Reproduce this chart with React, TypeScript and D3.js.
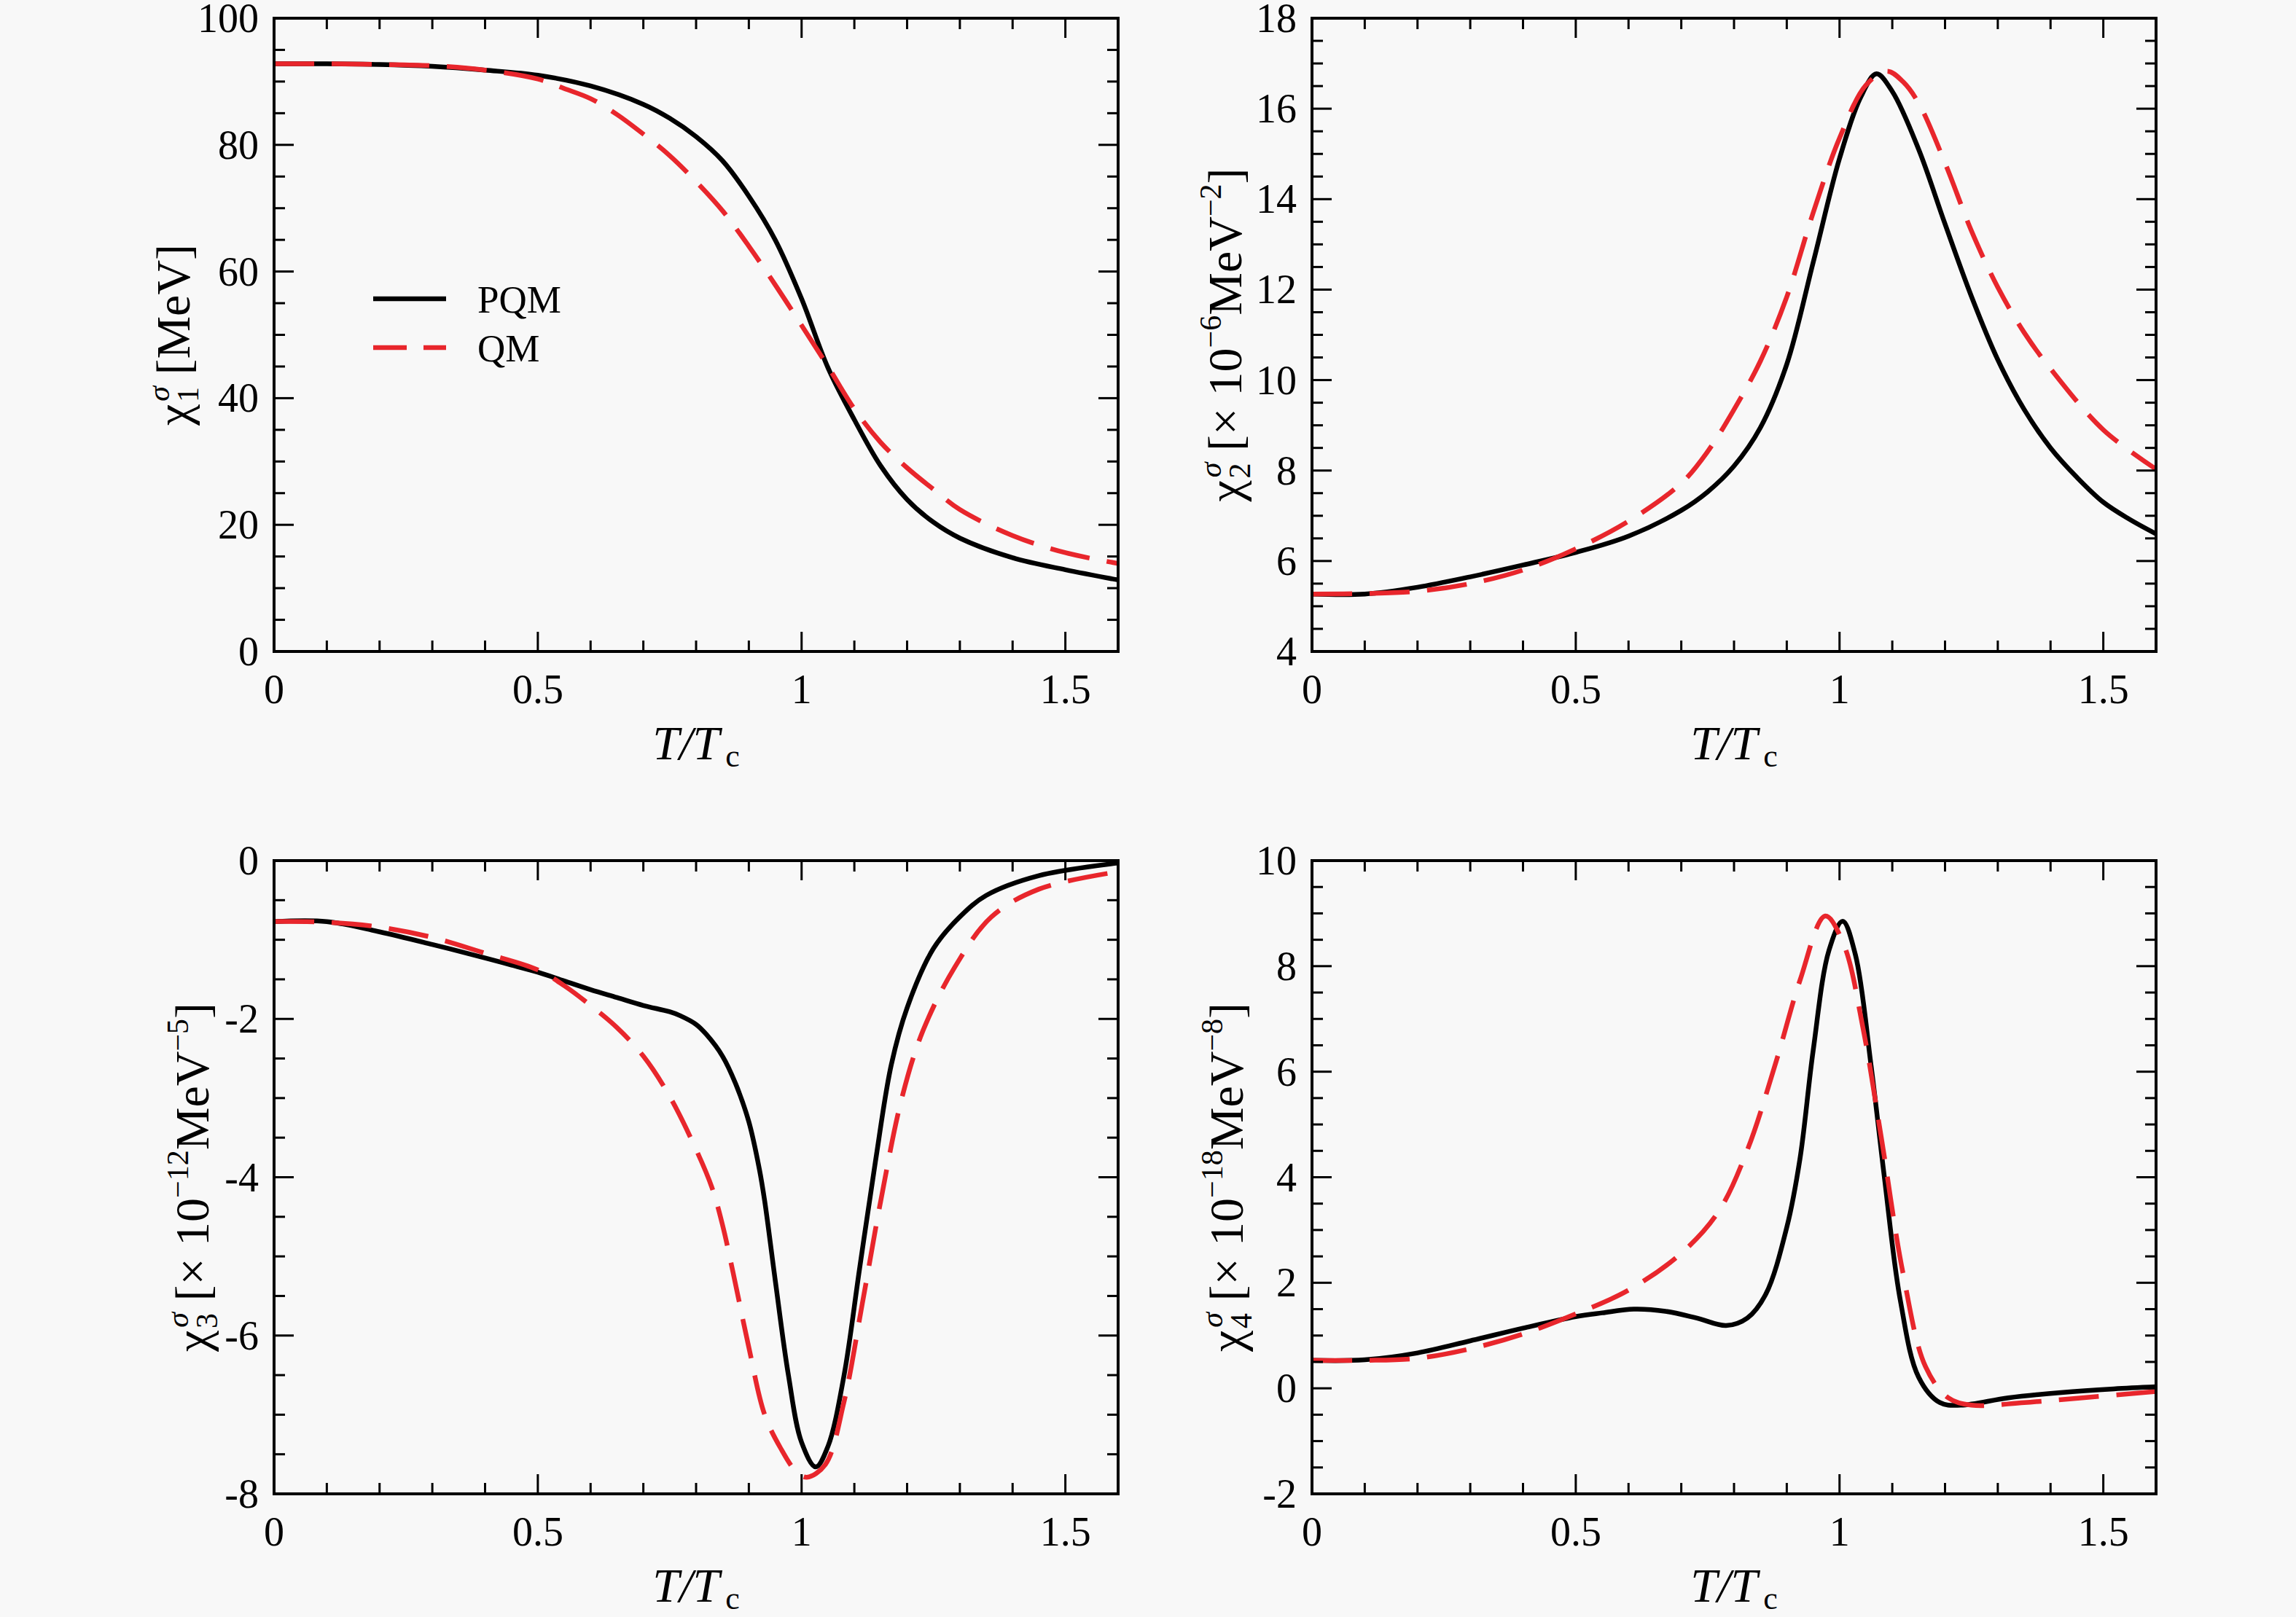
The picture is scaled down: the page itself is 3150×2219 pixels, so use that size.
import * as d3 from "d3";

const W = 3150;
const H = 2219;
const FONT = '"Liberation Serif", "Times New Roman", serif';
const BG = "#f8f8f8";
const RED = "#e8262c";

// layout of the four frames
const colLeft = [376, 1800];
const rowTop = [25, 1181];
const PW = 1158;
const PH = 869;

// x axis (shared)
const xDomain = [0, 1.6];
const xMajor = [0, 0.5, 1, 1.5];
const xMinorStep = 0.1;

// panel 1: chi_1
const t1Pqm = [0, 0.1, 0.2, 0.3, 0.4, 0.5, 0.6, 0.7, 0.75, 0.8, 0.85, 0.9, 0.95, 1.0, 1.05, 1.1, 1.15, 1.2, 1.25, 1.3, 1.4, 1.5, 1.6];
const chi1Pqm = [92.8, 92.8, 92.7, 92.4, 91.8, 91.0, 89.3, 86.4, 84.2, 81.3, 77.5, 71.9, 65.0, 55.7, 44.8, 36.6, 29.3, 24.0, 20.4, 17.9, 14.8, 12.9, 11.3];
const t1Qm = [0, 0.1, 0.2, 0.3, 0.4, 0.5, 0.55, 0.6, 0.65, 0.7, 0.75, 0.8, 0.85, 0.9, 0.95, 1.0, 1.05, 1.1, 1.15, 1.2, 1.25, 1.3, 1.4, 1.5, 1.6];
const chi1Qm = [92.8, 92.8, 92.7, 92.5, 91.8, 90.4, 88.9, 87.3, 84.8, 81.7, 78.3, 74.2, 69.6, 64.0, 57.9, 51.5, 45.0, 38.3, 33.0, 29.0, 25.6, 22.4, 18.3, 15.6, 13.9];

// panel 2: chi_2
const t2Pqm = [0, 0.1, 0.2, 0.3, 0.4, 0.5, 0.6, 0.7, 0.75, 0.8, 0.85, 0.9, 0.95, 1.0, 1.04, 1.07, 1.1, 1.15, 1.2, 1.25, 1.3, 1.35, 1.4, 1.45, 1.5, 1.55, 1.6];
const chi2Pqm = [5.27, 5.27, 5.42, 5.65, 5.91, 6.19, 6.55, 7.12, 7.53, 8.1, 8.95, 10.35, 12.6, 14.9, 16.25, 16.77, 16.38, 15.1, 13.45, 11.85, 10.45, 9.35, 8.5, 7.85, 7.3, 6.92, 6.6];
const t2Qm = [0, 0.1, 0.2, 0.3, 0.4, 0.5, 0.6, 0.7, 0.75, 0.8, 0.85, 0.9, 0.95, 1.0, 1.05, 1.09, 1.12, 1.15, 1.2, 1.25, 1.3, 1.35, 1.4, 1.5, 1.6];
const chi2Qm = [5.27, 5.28, 5.33, 5.5, 5.8, 6.27, 6.88, 7.72, 8.42, 9.35, 10.42, 11.84, 13.7, 15.35, 16.52, 16.83, 16.6, 16.12, 14.8, 13.3, 12.05, 11.05, 10.25, 8.9, 8.03];

// panel 3: chi_3
const t3Pqm = [0, 0.1, 0.2, 0.3, 0.4, 0.45, 0.5, 0.55, 0.6, 0.65, 0.7, 0.75, 0.77, 0.8, 0.82, 0.85, 0.875, 0.9, 0.92, 0.93, 0.95, 0.975, 1.0, 1.027, 1.05, 1.08, 1.11, 1.14, 1.17, 1.2, 1.25, 1.3, 1.35, 1.45, 1.6];
const chi3Pqm = [-0.77, -0.77, -0.9, -1.06, -1.23, -1.32, -1.41, -1.52, -1.63, -1.73, -1.83, -1.91, -1.96, -2.07, -2.2, -2.47, -2.82, -3.3, -3.9, -4.3, -5.3, -6.5, -7.35, -7.66, -7.4, -6.52, -5.15, -3.8, -2.58, -1.86, -1.11, -0.71, -0.44, -0.19, -0.03];
const t3Qm = [0, 0.1, 0.2, 0.3, 0.4, 0.5, 0.55, 0.6, 0.65, 0.7, 0.75, 0.8, 0.83, 0.85, 0.87, 0.9, 0.93, 0.96, 0.99, 1.01, 1.045, 1.08, 1.115, 1.15, 1.19, 1.23, 1.29, 1.36, 1.45, 1.6];
const chi3Qm = [-0.77, -0.78, -0.84, -0.97, -1.17, -1.38, -1.58, -1.83, -2.11, -2.47, -2.98, -3.65, -4.13, -4.6, -5.2, -6.15, -7.0, -7.42, -7.72, -7.79, -7.63, -6.85, -5.6, -4.3, -3.0, -2.15, -1.35, -0.71, -0.36, -0.14];

// panel 4: chi_4
const t4Pqm = [0, 0.1, 0.2, 0.3, 0.4, 0.5, 0.55, 0.61, 0.67, 0.73, 0.785, 0.825, 0.86, 0.9, 0.925, 0.95, 0.98, 1.006, 1.03, 1.06, 1.085, 1.115, 1.15, 1.19, 1.23, 1.32, 1.42, 1.52, 1.6];
const chi4Pqm = [0.53, 0.54, 0.67, 0.9, 1.14, 1.36, 1.43, 1.5, 1.46, 1.33, 1.19, 1.33, 1.78, 3.05, 4.35, 6.4, 8.3, 8.85, 8.22, 6.1, 4.0, 1.68, 0.21, -0.27, -0.32, -0.18, -0.08, -0.01, 0.03];
const t4Qm = [0, 0.1, 0.2, 0.3, 0.4, 0.5, 0.6, 0.7, 0.77, 0.825, 0.88, 0.925, 0.973, 1.008, 1.044, 1.08, 1.12, 1.163, 1.206, 1.25, 1.35, 1.46, 1.6];
const chi4Qm = [0.53, 0.53, 0.57, 0.75, 1.03, 1.41, 1.86, 2.56, 3.34, 4.51, 6.2, 7.73, 8.95, 8.41, 6.85, 4.7, 2.2, 0.41, -0.18, -0.32, -0.27, -0.18, -0.06];

// y axes
const y1Domain = [0, 100];
const y1Major = [0, 20, 40, 60, 80, 100];
const y2Domain = [4, 18];
const y2Major = [4, 6, 8, 10, 12, 14, 16, 18];
const y3Domain = [-8, 0];
const y3Major = [-8, -6, -4, -2, 0];
const y4Domain = [-2, 10];
const y4Major = [-2, 0, 2, 4, 6, 8, 10];

const seriesNames = ["PQM", "QM"];

type Panel = {
  left: number;
  top: number;
  yDomain: number[];
  yMajor: number[];
  yMinorStep: number;
  pqmT: number[];
  pqm: number[];
  qmT: number[];
  qm: number[];
  sub: string;
  power: string | null;
  unitPower: string | null;
  labelOffset: number;
};

const panels: Panel[] = [
  { left: colLeft[0], top: rowTop[0], yDomain: y1Domain, yMajor: y1Major, yMinorStep: 5, pqmT: t1Pqm, pqm: chi1Pqm, qmT: t1Qm, qm: chi1Qm, sub: "1", power: null, unitPower: null, labelOffset: 116 },
  { left: colLeft[1], top: rowTop[0], yDomain: y2Domain, yMajor: y2Major, yMinorStep: 0.5, pqmT: t2Pqm, pqm: chi2Pqm, qmT: t2Qm, qm: chi2Qm, sub: "2", power: "\u22126", unitPower: "\u22122", labelOffset: 97 },
  { left: colLeft[0], top: rowTop[1], yDomain: y3Domain, yMajor: y3Major, yMinorStep: 0.5, pqmT: t3Pqm, pqm: chi3Pqm, qmT: t3Qm, qm: chi3Qm, sub: "3", power: "\u221212", unitPower: "\u22125", labelOffset: 90 },
  { left: colLeft[1], top: rowTop[1], yDomain: y4Domain, yMajor: y4Major, yMinorStep: 0.5, pqmT: t4Pqm, pqm: chi4Pqm, qmT: t4Qm, qm: chi4Qm, sub: "4", power: "\u221218", unitPower: "\u22128", labelOffset: 95 },
];

const MAJOR = 27;
const MINOR = 15;
const LW = 6.5;

function minorValues(domain: number[], step: number, majors: number[]) {
  const out: number[] = [];
  const n = Math.round((domain[1] - domain[0]) / step);
  for (let i = 0; i <= n; i++) {
    const v = +(domain[0] + i * step).toFixed(4);
    if (!majors.some((m) => Math.abs(m - v) < 1e-6)) out.push(v);
  }
  return out;
}

function ChartPanel({ p, legend }: { p: Panel; legend: boolean }) {
  const x = d3.scaleLinear().domain(xDomain).range([p.left, p.left + PW]);
  const y = d3.scaleLinear().domain(p.yDomain).range([p.top + PH, p.top]);
  const line = d3
    .line<[number, number]>()
    .x((d) => x(d[0]))
    .y((d) => y(d[1]))
    .curve(d3.curveCatmullRom.alpha(0.5));
  const pqmPts = p.pqmT.map((t, i) => [t, p.pqm[i]] as [number, number]);
  const qmPts = p.qmT.map((t, i) => [t, p.qm[i]] as [number, number]);
  const xMinor = minorValues(xDomain, xMinorStep, xMajor);
  const yMinor = minorValues(p.yDomain, p.yMinorStep, p.yMajor);
  const bottom = p.top + PH;
  const right = p.left + PW;
  const cx = p.left + PW / 2;
  const cy = p.top + PH / 2;
  const lx = p.left - p.labelOffset;

  return (
    <g>
      <defs>
        <clipPath id={`clip-${p.sub}`}>
          <rect x={p.left} y={p.top} width={PW} height={PH} />
        </clipPath>
      </defs>
      <g clipPath={`url(#clip-${p.sub})`} fill="none" strokeLinejoin="round">
        <path d={line(pqmPts) || ""} stroke="#000" strokeWidth={LW} />
        <path d={line(qmPts) || ""} stroke={RED} strokeWidth={LW} strokeDasharray="55,24" />
      </g>
      <g stroke="#000" strokeWidth={3}>
        {xMajor.concat(xMinor).map((v) => {
          const len = xMajor.includes(v) ? MAJOR : MINOR;
          return (
            <g key={`xt${v}`}>
              <line x1={x(v)} x2={x(v)} y1={bottom} y2={bottom - len} />
              <line x1={x(v)} x2={x(v)} y1={p.top} y2={p.top + len} />
            </g>
          );
        })}
        {p.yMajor.concat(yMinor).map((v) => {
          const len = p.yMajor.includes(v) ? MAJOR : MINOR;
          return (
            <g key={`yt${v}`}>
              <line x1={p.left} x2={p.left + len} y1={y(v)} y2={y(v)} />
              <line x1={right} x2={right - len} y1={y(v)} y2={y(v)} />
            </g>
          );
        })}
      </g>
      <rect x={p.left} y={p.top} width={PW} height={PH} fill="none" stroke="#000" strokeWidth={4} />
      <g fontFamily={FONT} fontSize={56} fill="#000">
        {xMajor.map((v) => (
          <text key={`xl${v}`} x={x(v)} y={bottom + 71} textAnchor="middle">
            {String(v)}
          </text>
        ))}
        {p.yMajor.map((v) => (
          <text key={`yl${v}`} x={p.left - 21} y={y(v)} dy="0.34em" textAnchor="end">
            {String(v)}
          </text>
        ))}
      </g>
      <text x={cx} y={bottom + 148} textAnchor="middle" fontFamily={FONT} fontSize={66} fill="#000">
        <tspan fontStyle="italic">T</tspan>
        <tspan fontStyle="italic">/</tspan>
        <tspan fontStyle="italic">T</tspan>
        <tspan fontSize={44} dx={8} dy={10}>c</tspan>
      </text>
      <text
        transform={`translate(${lx},${cy}) rotate(-90)`}
        textAnchor="middle"
        fontFamily={FONT}
        fontSize={66}
        fill="#000"
      >
        <tspan>χ</tspan>
        <tspan fontSize={42} fontStyle="italic" dx={4} dy={-28}>σ</tspan>
        <tspan fontSize={42} dx={-22} dy={40}>{p.sub}</tspan>
        <tspan dy={-12}>{p.power ? " [× 10" : " [MeV]"}</tspan>
        {p.power && <tspan fontSize={42} dy={-28}>{p.power}</tspan>}
        {p.power && <tspan dy={28}>MeV</tspan>}
        {p.power && <tspan fontSize={42} dy={-28}>{p.unitPower}</tspan>}
        {p.power && <tspan dy={28}>]</tspan>}
      </text>
      {legend && (
        <g fontFamily={FONT} fontSize={53} fill="#000">
          <line x1={512} x2={612} y1={410} y2={410} stroke="#000" strokeWidth={LW} />
          <text x={655} y={429}>{seriesNames[0]}</text>
          <line x1={512} x2={612} y1={477} y2={477} stroke={RED} strokeWidth={LW} strokeDasharray="46,23" />
          <text x={655} y={496}>{seriesNames[1]}</text>
        </g>
      )}
    </g>
  );
}

export default function App() {
  return (
    <div style={{ position: "absolute", left: 0, top: 0 }}>
      <svg width={W} height={H} style={{ display: "block", background: BG }}>
        <rect x={0} y={0} width={W} height={H} fill={BG} />
        {panels.map((p, i) => (
          <ChartPanel key={i} p={p} legend={i === 0} />
        ))}
      </svg>
    </div>
  );
}
